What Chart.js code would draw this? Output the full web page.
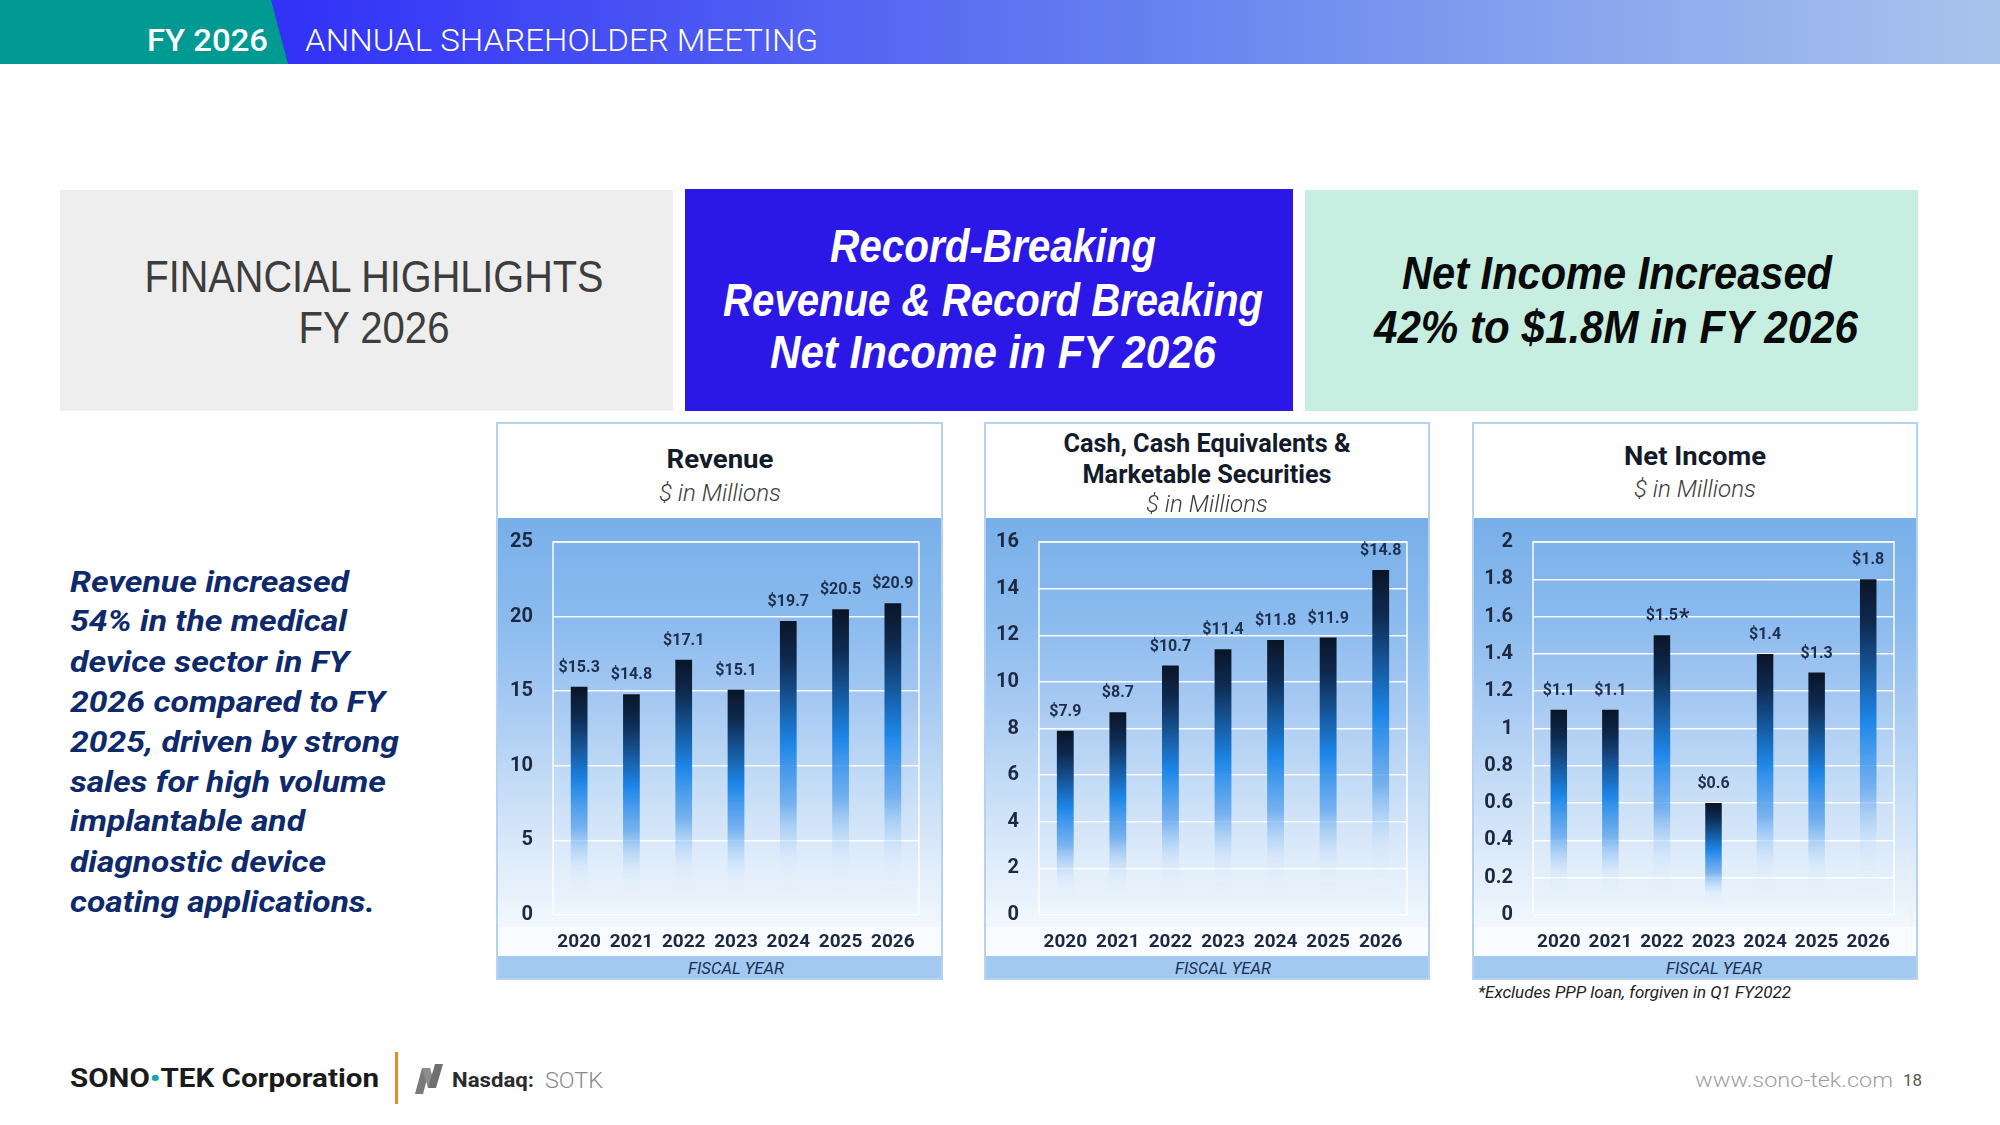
<!DOCTYPE html>
<html><head><meta charset="utf-8">
<script src="https://cdn.jsdelivr.net/npm/chart.js@4.4.1/dist/chart.umd.min.js"></script>
<style>
html,body{margin:0;padding:0;}
body{width:2000px;height:1125px;position:relative;overflow:hidden;background:#fff;font-family:Roboto,sans-serif;}
.box{position:absolute;}
.t{position:absolute;white-space:nowrap;line-height:1;}
.panel{position:absolute;box-sizing:border-box;border:2px solid #b4d2f2;background:#fff;}
.plotbg{position:absolute;background:linear-gradient(180deg,#78afe9 0%,#8bbbee 25%,#a6c9f2 45%,#c4dcf6 65%,#e1edfb 85%,#f1f7fd 100%);}
.xband{position:absolute;background:#f8fbff;}
.fband{position:absolute;background:#a3c9f1;}
canvas{position:absolute;}
</style></head><body>

<div class="box" id="hdr" style="left:0;top:0;width:2000px;height:64px;background:linear-gradient(90deg,#2f2ff8 0px,#3232f7 290px,#4b57f3 700px,#6a85f0 1200px,#8eabee 1650px,#a9c4ec 2000px);"></div>
<div class="box" style="left:0;top:0;width:290px;height:64px;background:#009a93;clip-path:polygon(0 0,271px 0,288px 64px,0 64px);"></div>

<div class="box" style="left:60px;top:190px;width:613px;height:221px;background:#eeeeee;"></div>
<div class="box" style="left:685px;top:189px;width:608px;height:222px;background:#2b17e6;"></div>
<div class="box" style="left:1305px;top:190px;width:613px;height:221px;background:#c6efe1;"></div>

<div id="panels"></div>
<div id="texts"></div>

<svg class="box" style="left:414px;top:1064px;" width="34" height="30" viewBox="0 0 34 30">
  <polygon points="1,30 9,30 16,4 8,4" fill="#7a7a7a"/>
  <polygon points="8,4 16,4 22,24 14,24" fill="#8d8d8d"/>
  <polygon points="14,24 22,24 29,0 21,0" fill="#6f6f6f"/>
</svg>
<div class="box" style="left:395px;top:1052px;width:3px;height:52px;background:#e98a2a;"></div>

<script>
// ---------- data ----------
const fiscalYears = ['2020','2021','2022','2023','2024','2025','2026'];
const revenueValues = [15.3, 14.8, 17.1, 15.1, 19.7, 20.5, 20.9];
const cashValues = [7.9, 8.7, 10.7, 11.4, 11.8, 11.9, 14.8];
const netIncomeValues = [1.1, 1.1, 1.5, 0.6, 1.4, 1.3, 1.8];
const netIncomeMarks = ['', '', '*', '', '', '', ''];
const revenueTicks = [0, 5, 10, 15, 20, 25];
const cashTicks = [0, 2, 4, 6, 8, 10, 12, 14, 16];
const netIncomeTicks = [0, 0.2, 0.4, 0.6, 0.8, 1, 1.2, 1.4, 1.6, 1.8, 2];
const revenueTitle = ['Revenue'];
const cashTitle = ['Cash, Cash Equivalents &', 'Marketable Securities'];
const netIncomeTitle = ['Net Income'];
const unitLabel = '$ in Millions';
const axisTitle = 'FISCAL YEAR';
const footnote = '*Excludes PPP loan, forgiven in Q1 FY2022';

// ---------- text helper ----------
const textLayer = document.getElementById('texts');
function txt(str, x, cy, o){
  const s = document.createElement('span');
  s.className = 't';
  s.textContent = str;
  s.style.font = o.font;
  s.style.color = o.color || '#000';
  s.style.left = x + 'px';
  s.style.top = cy + 'px';
  textLayer.appendChild(s);
  const w = s.getBoundingClientRect().width;
  const sc = o.w ? (o.w / w) : 1;
  if ((o.align || 'left') === 'center') {
    s.style.transformOrigin = '50% 50%';
    s.style.transform = 'translate(-50%,-50%) scaleX(' + sc + ')';
  } else {
    s.style.transformOrigin = '0 50%';
    s.style.transform = 'translateY(-50%) scaleX(' + sc + ')';
  }
  return s;
}

// header
txt('FY 2026', 147, 40, {font:'500 32px Roboto', color:'#fff', w:121});
txt('ANNUAL SHAREHOLDER MEETING', 305, 40, {font:'300 32px Roboto', color:'#fff', w:513});

// top boxes
txt('FINANCIAL HIGHLIGHTS', 374, 277, {font:'400 44px "Liberation Sans"', color:'#3d3d3d', w:459, align:'center'});
txt('FY 2026', 374, 328, {font:'400 44px "Liberation Sans"', color:'#3d3d3d', w:151, align:'center'});
txt('Record-Breaking', 993, 246, {font:'italic 700 46px "Liberation Sans"', color:'#fff', w:326, align:'center'});
txt('Revenue & Record Breaking', 993, 300, {font:'italic 700 46px "Liberation Sans"', color:'#fff', w:540, align:'center'});
txt('Net Income in FY 2026', 993, 352, {font:'italic 700 46px "Liberation Sans"', color:'#fff', w:446, align:'center'});
txt('Net Income Increased', 1617, 273, {font:'italic 700 46px "Liberation Sans"', color:'#0a0a0a', w:430, align:'center'});
txt('42% to $1.8M in FY 2026', 1616, 327, {font:'italic 700 46px "Liberation Sans"', color:'#0a0a0a', w:484, align:'center'});

// paragraph
const paraLines = ['Revenue increased','54% in the medical','device sector in FY','2026 compared to FY','2025, driven by strong','sales for high volume','implantable and','diagnostic device','coating applications.'];
const paraY = [582, 621, 662, 702, 742, 782, 821, 862, 902];
const paraW = [279, 277, 279, 315, 329, 316, 235, 256, 305];
paraLines.forEach((l,i)=>txt(l, 70, paraY[i], {font:'italic 700 29px Roboto', color:'#0f2a6b', w:paraW[i]}));

// footer
(function(){
  const s = txt('SONO\u2022TEK Corporation', 70, 1078, {font:'700 26px Roboto', color:'#1b1b1b', w:309});
  s.innerHTML = 'SONO<span style="color:#17a3b0">\u2022</span>TEK Corporation';
})();
txt('Nasdaq:', 452, 1080, {font:'700 21px Roboto', color:'#2a2a2a', w:82});
txt('SOTK', 545, 1080, {font:'300 22px Roboto', color:'#8a8a8a', w:58});
txt('www.sono-tek.com', 1695, 1080, {font:'300 20px Roboto', color:'#a0a0a0', w:198});
txt('18', 1903, 1080, {font:'400 16px Roboto', color:'#555', w:19});

// ---------- panels & charts ----------
const panels = [
  {l:496, r:943, cl:553, cr:919, title:revenueTitle, titleY:[459], titleW:[107], subY:493, values:revenueValues, ticks:revenueTicks, marks:null},
  {l:984, r:1430, cl:1039, cr:1407, title:cashTitle, titleY:[443,474], titleW:[287,249], subY:504, values:cashValues, ticks:cashTicks, marks:null},
  {l:1472, r:1918, cl:1533, cr:1894, title:netIncomeTitle, titleY:[456], titleW:[142], subY:489, values:netIncomeValues, ticks:netIncomeTicks, marks:netIncomeMarks}
];
const TOP=422, BOT=980, PLOT_TOP=518, XBAND=927, FBAND=956, AREA_TOP=542, AREA_BOT=915;
const panelLayer = document.getElementById('panels');

function barFill(c){
  const chart = c.chart;
  if (!chart.chartArea || !chart.scales.y) return '#1b84e6';
  const y = chart.scales.y;
  const top = y.getPixelForValue(c.raw), bot = y.getPixelForValue(0);
  if (!isFinite(top) || !isFinite(bot) || bot - top < 1) return '#1b84e6';
  const g = chart.ctx.createLinearGradient(0, top, 0, bot);
  g.addColorStop(0, '#0a1526');
  g.addColorStop(0.13, '#0e2a50');
  g.addColorStop(0.42, '#1d86e8');
  g.addColorStop(0.62, 'rgba(95,165,236,0.8)');
  g.addColorStop(0.8, 'rgba(200,225,250,0.3)');
  g.addColorStop(0.93, 'rgba(240,246,253,0)');
  g.addColorStop(1, 'rgba(240,246,253,0)');
  return g;
}

const framePlugin = {
  id:'frame',
  beforeDatasetsDraw(chart){
    const {left,right,top,bottom} = chart.chartArea;
    const c = chart.ctx;
    c.save();
    c.strokeStyle = 'rgba(255,255,255,0.95)';
    c.lineWidth = 1.5;
    c.beginPath();
    c.moveTo(left, bottom); c.lineTo(left, top); c.lineTo(right, top); c.lineTo(right, bottom);
    c.stroke();
    c.restore();
  }
};
const valueLabelPlugin = {
  id:'valueLabels',
  afterDatasetsDraw(chart, args, opts){
    const c = chart.ctx;
    const meta = chart.getDatasetMeta(0);
    const vals = chart.data.datasets[0].data;
    c.save();
    c.fillStyle = '#1e2f4d';
    c.textBaseline = 'middle';
    meta.data.forEach((bar, i) => {
      const label = '$' + vals[i].toFixed(1);
      c.font = '700 16px Roboto';
      c.textAlign = 'center';
      c.fillText(label, bar.x, bar.y - 19);
      const mark = opts.marks ? opts.marks[i] : '';
      if (mark) {
        const w = c.measureText(label).width;
        c.font = '700 23px Roboto';
        c.textAlign = 'left';
        c.fillText(mark, bar.x + w/2 + 1, bar.y - 16);
      }
    });
    c.restore();
  }
};

panels.forEach((p, idx) => {
  const W = p.r - p.l;
  const pd = document.createElement('div');
  pd.className = 'panel';
  pd.style.cssText += `left:${p.l}px;top:${TOP}px;width:${W}px;height:${BOT-TOP}px;`;
  panelLayer.appendChild(pd);
  const inner = [
    ['plotbg', PLOT_TOP, XBAND],
    ['xband', XBAND, FBAND],
    ['fband', FBAND, BOT-2]
  ];
  inner.forEach(([cls, a, b]) => {
    const d = document.createElement('div');
    d.className = cls;
    d.style.cssText += `left:${p.l+2}px;top:${a}px;width:${W-4}px;height:${b-a}px;`;
    panelLayer.appendChild(d);
  });
  const cx = (p.l + p.r) / 2;
  p.title.forEach((t, i) => txt(t, cx, p.titleY[i], {font:'700 25px Roboto', color:'#131b2b', w:p.titleW[i], align:'center'}));
  txt(unitLabel, cx, p.subY, {font:'italic 300 23px Roboto', color:'#3a3a3a', w:122, align:'center'});
  txt(axisTitle, (p.cl + p.cr)/2, 968, {font:'italic 400 16px Roboto', color:'#1a2f52', w:96, align:'center'});

  const cvL = p.l + 2, cvR = p.r - 2, cvW = cvR - cvL;
  let cvTop = PLOT_TOP;
  let cvH = FBAND - cvTop;
  const cv = document.createElement('canvas');
  cv.width = cvW; cv.height = cvH;
  cv.style.left = cvL + 'px'; cv.style.top = cvTop + 'px';
  cv.style.width = cvW + 'px'; cv.style.height = cvH + 'px';
  panelLayer.appendChild(cv);
  const yW = p.cl - cvL;
  const padR = cvR - p.cr;
  const ticksArr = p.ticks;
  const xH = FBAND - AREA_BOT;
  const chart = new Chart(cv, {
    type:'bar',
    data:{labels:fiscalYears, datasets:[{data:p.values, backgroundColor:barFill, borderWidth:0, barPercentage:0.32, categoryPercentage:1}]},
    options:{
      responsive:false, maintainAspectRatio:false, animation:false, devicePixelRatio:1,
      layout:{padding:{top:0, right:padR, left:0, bottom:0}, autoPadding:false},
      plugins:{legend:{display:false}, tooltip:{enabled:false}, valueLabels:{marks:p.marks}},
      scales:{
        x:{
          grid:{display:false, drawTicks:false}, border:{display:false},
          ticks:{font:{family:'Roboto', weight:'700', size:19}, color:'#1c2940', padding:16, maxRotation:0},
          afterFit(s){ s.height = xH; }
        },
        y:{
          min:ticksArr[0], max:ticksArr[ticksArr.length-1],
          grid:{color:'rgba(255,255,255,0.95)', lineWidth:1.5, drawTicks:false}, border:{display:false},
          ticks:{font:{family:'Roboto', weight:'700', size:20}, color:'#1c2940', padding:20, callback:(v)=>String(v)},
          afterBuildTicks(s){ s.ticks = ticksArr.map(v=>({value:v})); },
          afterFit(s){ s.width = yW; }
        }
      }
    },
    plugins:[framePlugin, valueLabelPlugin]
  });
  // align the plot area with the reference: shift/resize the canvas so the area spans AREA_TOP..AREA_BOT
  for (let k = 0; k < 4; k++) {
    const off = chart.chartArea.top;
    const want = AREA_TOP - off;
    if (Math.abs(want - cvTop) < 0.5 && Math.abs(chart.chartArea.bottom + cvTop - AREA_BOT) < 0.5) break;
    cvTop = want;
    cvH = FBAND - cvTop;
    cv.style.top = cvTop + 'px';
    chart.resize(cvW, cvH);
  }
});

txt(footnote, 1478, 992, {font:'italic 400 16px Roboto', color:'#222', w:313});
</script>
</body></html>
